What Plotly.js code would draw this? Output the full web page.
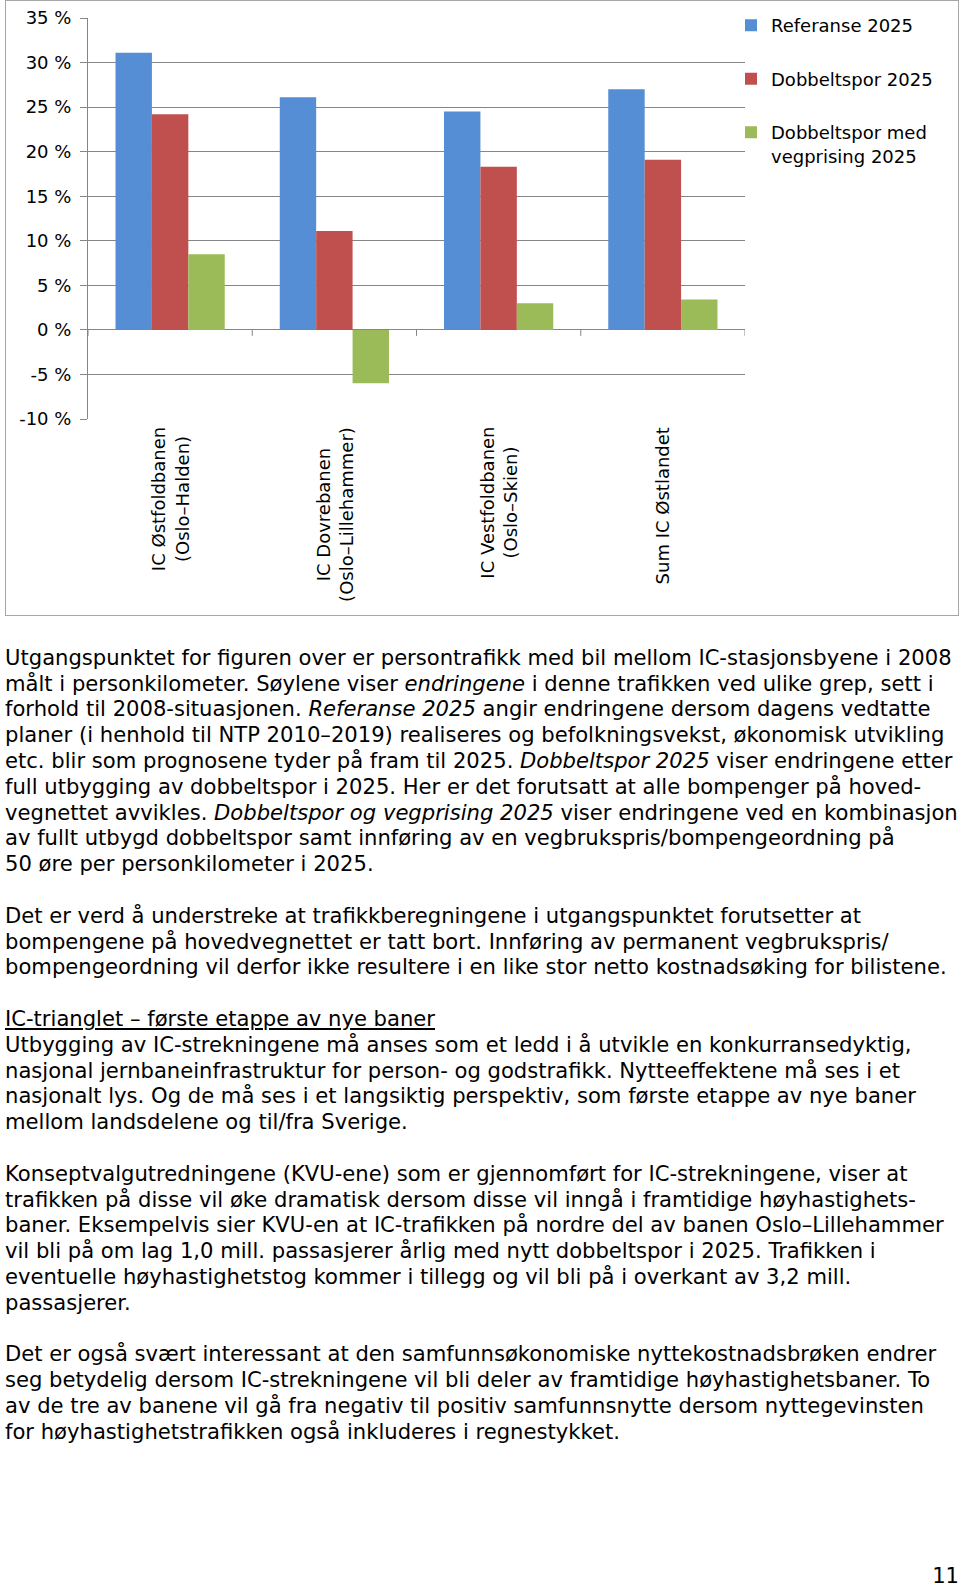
<!DOCTYPE html>
<html>
<head>
<meta charset="utf-8">
<script src="https://cdn.plot.ly/plotly-3.0.1.min.js"></script>
<style>
html,body{margin:0;padding:0;background:#fff;width:960px;height:1588px;overflow:hidden;}
#frame{position:absolute;left:5px;top:0;width:954px;height:616px;box-sizing:border-box;border:1px solid #a6a6a6;pointer-events:none;z-index:2;}
#chart{position:absolute;left:0;top:0;width:960px;height:620px;z-index:1;}
#body{position:absolute;left:5px;top:645px;font-family:"DejaVu Sans",Verdana,sans-serif;color:#000;white-space:nowrap;line-height:25.8px;}
#body p{margin:0 0 25.8px 0;}
#body .h{text-decoration:underline;}
#pagenum{position:absolute;right:1px;top:1560px;font-family:"DejaVu Sans",Verdana,sans-serif;color:#000;line-height:25.8px;}
</style>
</head>
<body>
<div id="frame"></div>
<div id="chart"></div>
<div id="body">
<p>Utgangspunktet for figuren over er persontrafikk med bil mellom IC-stasjonsbyene i 2008<br>
målt i personkilometer. Søylene viser <i>endringene</i> i denne trafikken ved ulike grep, sett i<br>
forhold til 2008-situasjonen. <i>Referanse 2025</i> angir endringene dersom dagens vedtatte<br>
planer (i henhold til NTP 2010–2019) realiseres og befolkningsvekst, økonomisk utvikling<br>
etc. blir som prognosene tyder på fram til 2025. <i>Dobbeltspor 2025</i> viser endringene etter<br>
full utbygging av dobbeltspor i 2025. Her er det forutsatt at alle bompenger på hoved-<br>
vegnettet avvikles. <i>Dobbeltspor og vegprising 2025</i> viser endringene ved en kombinasjon<br>
av fullt utbygd dobbeltspor samt innføring av en vegbrukspris/bompengeordning på<br>
50 øre per personkilometer i 2025.</p>
<p>Det er verd å understreke at trafikkberegningene i utgangspunktet forutsetter at<br>
bompengene på hovedvegnettet er tatt bort. Innføring av permanent vegbrukspris/<br>
bompengeordning vil derfor ikke resultere i en like stor netto kostnadsøking for bilistene.</p>
<p><span class="h">IC-trianglet – første etappe av nye baner</span><br>
Utbygging av IC-strekningene må anses som et ledd i å utvikle en konkurransedyktig,<br>
nasjonal jernbaneinfrastruktur for person- og godstrafikk. Nytteeffektene må ses i et<br>
nasjonalt lys. Og de må ses i et langsiktig perspektiv, som første etappe av nye baner<br>
mellom landsdelene og til/fra Sverige.</p>
<p>Konseptvalgutredningene (KVU-ene) som er gjennomført for IC-strekningene, viser at<br>
trafikken på disse vil øke dramatisk dersom disse vil inngå i framtidige høyhastighets-<br>
baner. Eksempelvis sier KVU-en at IC-trafikken på nordre del av banen Oslo–Lillehammer<br>
vil bli på om lag 1,0 mill. passasjerer årlig med nytt dobbeltspor i 2025. Trafikken i<br>
eventuelle høyhastighetstog kommer i tillegg og vil bli på i overkant av 3,2 mill.<br>
passasjerer.</p>
<p>Det er også svært interessant at den samfunnsøkonomiske nyttekostnadsbrøken endrer<br>
seg betydelig dersom IC-strekningene vil bli deler av framtidige høyhastighetsbaner. To<br>
av de tre av banene vil gå fra negativ til positiv samfunnsnytte dersom nyttegevinsten<br>
for høyhastighetstrafikken også inkluderes i regnestykket.</p>
</div>
<div id="pagenum">11</div>
<script>
// ---- Chart data ----
const categories = ["IC Østfoldbanen<br>(Oslo–Halden)", "IC Dovrebanen<br>(Oslo–Lillehammer)", "IC Vestfoldbanen<br>(Oslo–Skien)", "Sum IC Østlandet"];
const seriesNames = ["Referanse 2025", "Dobbeltspor 2025", "Dobbeltspor med<br>vegprising 2025"];
const referanse2025 = [31.1, 26.1, 24.5, 27.0];
const dobbeltspor2025 = [24.2, 11.1, 18.3, 19.1];
const dobbeltsporVegprising2025 = [8.5, -6.0, 3.0, 3.4];
const seriesColors = ["#558ed5", "#c0504d", "#9bbb59"];
const yTickVals = [-10, -5, 0, 5, 10, 15, 20, 25, 30, 35];
const yTickText = ["-10 %", "-5 %", "0 %", "5 %", "10 %", "15 %", "20 %", "25 %", "30 %", "35 %"];

const seriesValues = [referanse2025, dobbeltspor2025, dobbeltsporVegprising2025];
const traces = seriesValues.map((vals, i) => ({
  type: 'bar',
  x: categories,
  y: vals,
  name: seriesNames[i],
  legendgroup: 'g' + i,
  marker: {color: seriesColors[i], line: {width: 0}},
  hoverinfo: 'x+y+name'
}));

const gridColor = '#868686';
const boundaries = categories.map((c, i) => i - 0.5).concat([categories.length - 0.5]);
const shapes = boundaries.map(b => ({
  type: 'line', xref: 'x', yref: 'y', x0: b, x1: b,
  ysizemode: 'pixel', yanchor: 0, y0: 0, y1: -6,
  line: {color: gridColor, width: 1}
}));
const annotations = categories.map(c => ({
  x: c, xref: 'x', y: 0, yref: 'paper', xanchor: 'center', yanchor: 'top',
  yshift: -6, textangle: -90, text: c, showarrow: false, align: 'center',
  font: {family: '"DejaVu Sans", Verdana, sans-serif', size: 18, color: '#000'}
}));

const layout = {
  width: 960, height: 620,
  margin: {l: 88, r: 215, t: 18, b: 201, pad: 0, autoexpand: false},
  paper_bgcolor: 'rgba(0,0,0,0)', plot_bgcolor: 'rgba(0,0,0,0)',
  font: {family: '"DejaVu Sans", Verdana, sans-serif', size: 18, color: '#000'},
  barmode: 'group', bargap: 0.335, bargroupgap: 0,
  xaxis: {type: 'category', showticklabels: false, showgrid: false, zeroline: false, showline: false, ticks: '', range: [-0.5, categories.length - 0.5], fixedrange: true, automargin: false},
  yaxis: {range: [-10, 35], tickmode: 'array', tickvals: yTickVals, ticktext: yTickText,
    showgrid: true, gridcolor: gridColor, gridwidth: 1,
    zeroline: true, zerolinecolor: gridColor, zerolinewidth: 1,
    showline: true, linecolor: gridColor, linewidth: 1,
    ticks: 'outside', ticklen: 7, tickcolor: gridColor, tickwidth: 1,
    ticklabelstandoff: 5, tickfont: {size: 18, color: '#000'}, fixedrange: true, automargin: false},
  showlegend: true,
  legend: {x: 0.9787, xanchor: 'left', y: 1.027, yanchor: 'top', traceorder: 'grouped', tracegroupgap: 27,
    valign: 'top', font: {size: 18, color: '#000'}, bgcolor: 'rgba(0,0,0,0)', borderwidth: 0},
  shapes: shapes,
  annotations: annotations
};

Plotly.newPlot('chart', traces, layout, {displayModeBar: false, staticPlot: true});

// ---- fit body text font to the page width ----
(function () {
  const ctx = document.createElement('canvas').getContext('2d');
  ctx.font = '100px "DejaVu Sans"';
  const w = ctx.measureText('Utgangspunktet for figuren over er persontrafikk med bil mellom IC-stasjonsbyene i 2008').width;
  const F = 100 * 947 / w;
  const LH = 25.8;
  const baseOff = (LH - 1.164 * F) / 2 + 0.928 * F;
  const body = document.getElementById('body');
  body.style.fontSize = F + 'px';
  body.style.top = (665 - baseOff) + 'px';
  const pn = document.getElementById('pagenum');
  pn.style.fontSize = F + 'px';
  pn.style.top = (1583 - baseOff) + 'px';
})();
</script>
</body>
</html>
